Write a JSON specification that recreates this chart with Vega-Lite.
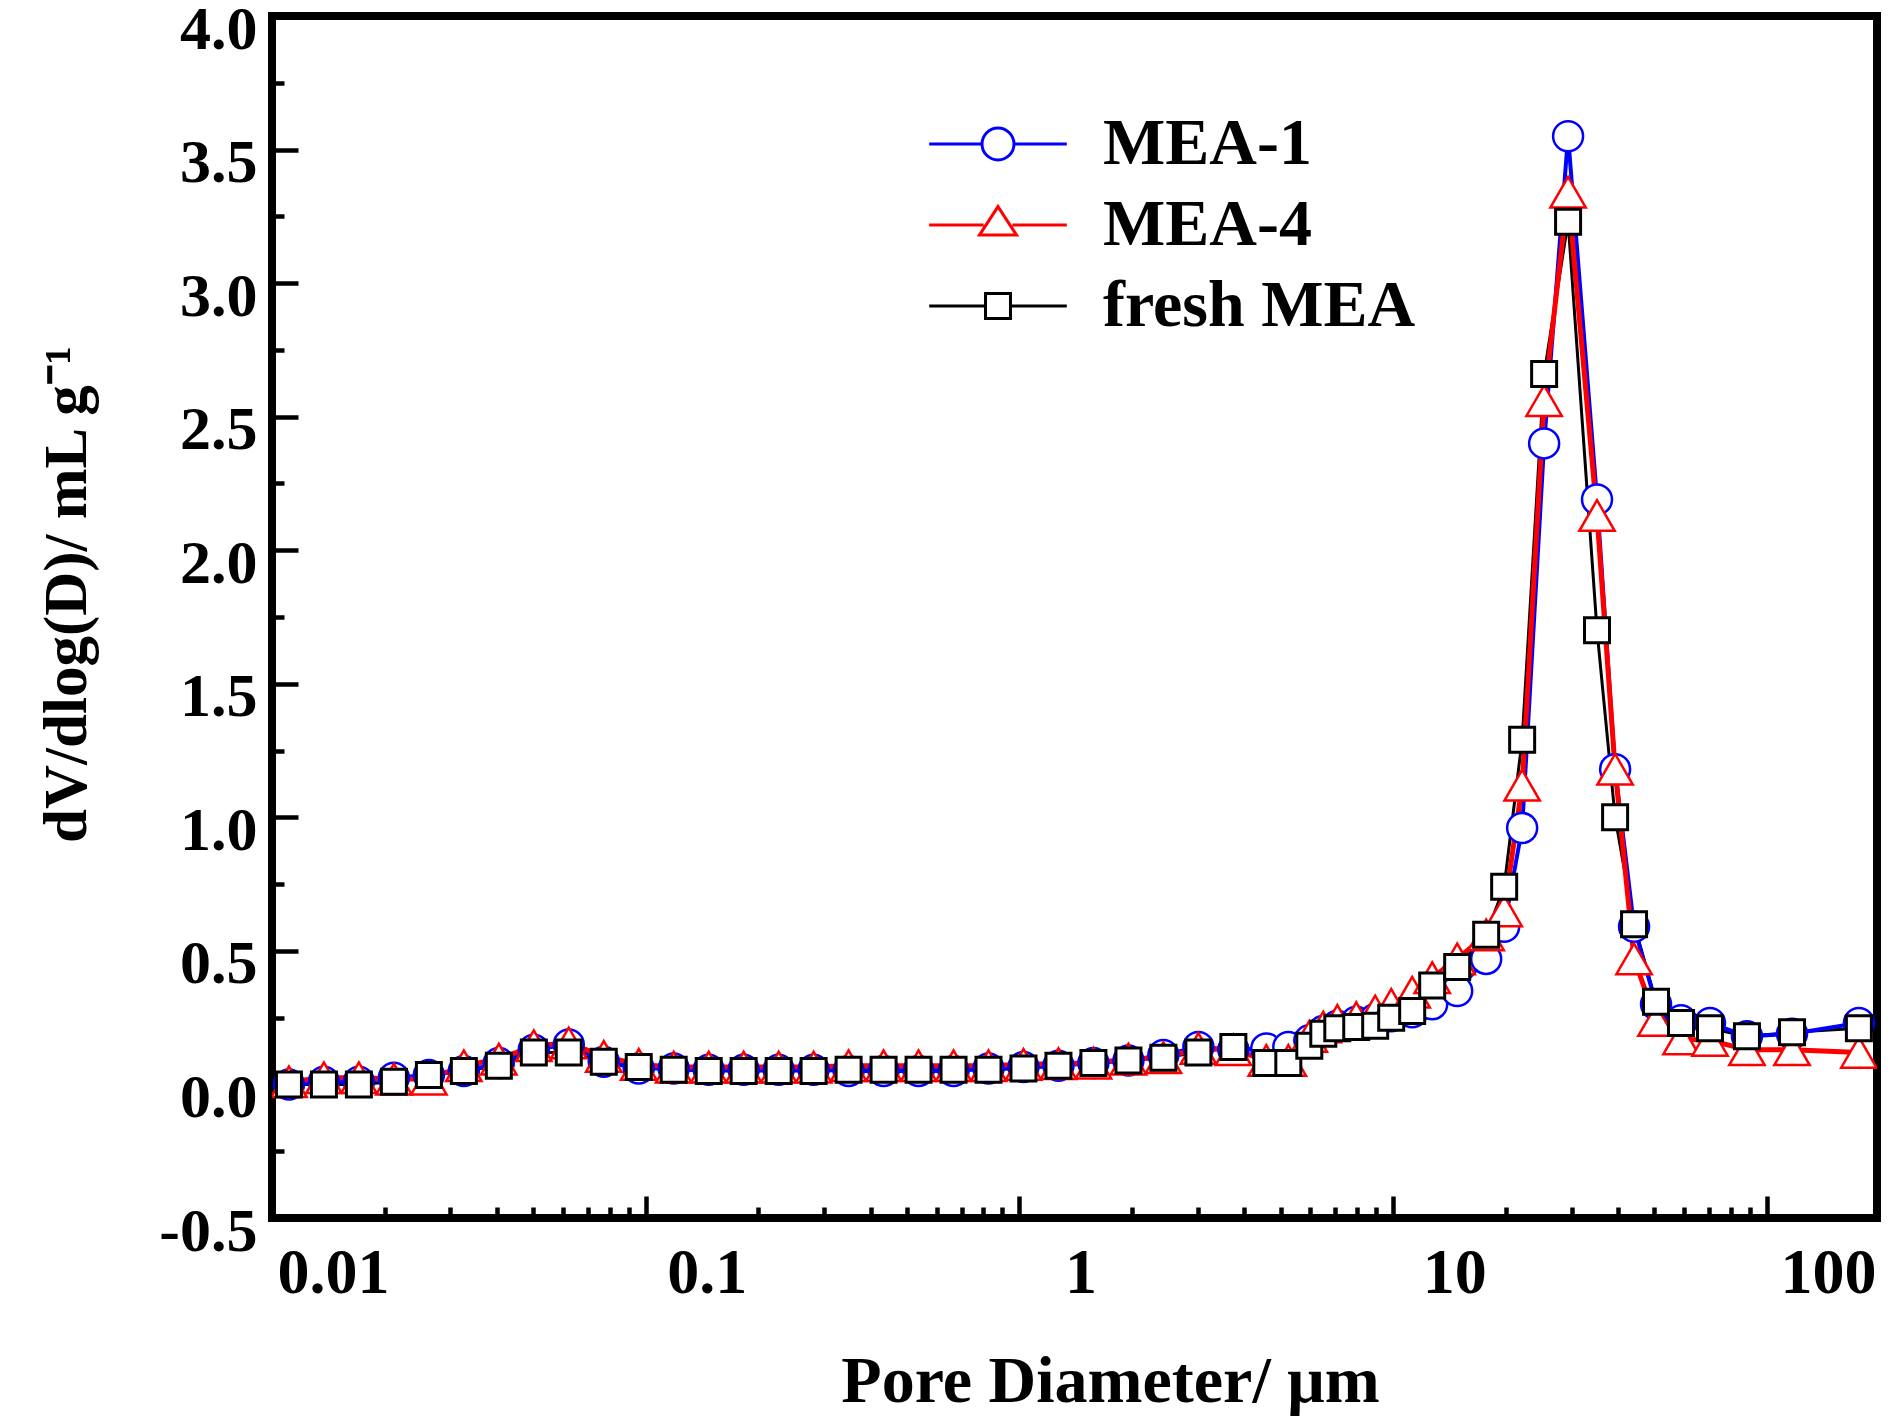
{
  "$schema": "https://vega.github.io/schema/vega-lite/v6.json",
  "autosize": "none",
  "padding": {"left": 272, "top": 16, "right": 25, "bottom": 201},
  "width": 1605,
  "height": 1202,
  "background": "white",
  "config": {
    "view": {"stroke": "black", "strokeWidth": 8},
    "font": "Liberation Serif"
  },
  "data": {
    "values": [
      {"s":"MEA-1","d":0.0111,"v":0.0},{"s":"MEA-1","d":0.01377,"v":0.01},{"s":"MEA-1","d":0.01708,"v":0.01},{"s":"MEA-1","d":0.02119,"v":0.025},{"s":"MEA-1","d":0.02629,"v":0.035},{"s":"MEA-1","d":0.03261,"v":0.05},{"s":"MEA-1","d":0.04045,"v":0.08},{"s":"MEA-1","d":0.05018,"v":0.13},{"s":"MEA-1","d":0.06224,"v":0.15},{"s":"MEA-1","d":0.07721,"v":0.085},{"s":"MEA-1","d":0.09578,"v":0.06},{"s":"MEA-1","d":0.1188,"v":0.06},{"s":"MEA-1","d":0.1474,"v":0.055},{"s":"MEA-1","d":0.1828,"v":0.055},{"s":"MEA-1","d":0.2268,"v":0.055},{"s":"MEA-1","d":0.2813,"v":0.055},{"s":"MEA-1","d":0.349,"v":0.05},{"s":"MEA-1","d":0.4329,"v":0.05},{"s":"MEA-1","d":0.537,"v":0.05},{"s":"MEA-1","d":0.6662,"v":0.05},{"s":"MEA-1","d":0.8263,"v":0.06},{"s":"MEA-1","d":1.025,"v":0.065},{"s":"MEA-1","d":1.2715,"v":0.07},{"s":"MEA-1","d":1.577,"v":0.08},{"s":"MEA-1","d":1.957,"v":0.09},{"s":"MEA-1","d":2.427,"v":0.11},{"s":"MEA-1","d":3.011,"v":0.14},{"s":"MEA-1","d":3.735,"v":0.13},{"s":"MEA-1","d":4.575,"v":0.135},{"s":"MEA-1","d":5.24,"v":0.14},{"s":"MEA-1","d":5.963,"v":0.165},{"s":"MEA-1","d":6.5,"v":0.2},{"s":"MEA-1","d":7.086,"v":0.22},{"s":"MEA-1","d":7.963,"v":0.235},{"s":"MEA-1","d":8.949,"v":0.245},{"s":"MEA-1","d":9.878,"v":0.255},{"s":"MEA-1","d":11.24,"v":0.27},{"s":"MEA-1","d":12.715,"v":0.3},{"s":"MEA-1","d":14.83,"v":0.35},{"s":"MEA-1","d":17.73,"v":0.47},{"s":"MEA-1","d":19.81,"v":0.59},{"s":"MEA-1","d":22.13,"v":0.96},{"s":"MEA-1","d":25.34,"v":2.4},{"s":"MEA-1","d":29.37,"v":3.55},{"s":"MEA-1","d":35.1,"v":2.19},{"s":"MEA-1","d":39.24,"v":1.18},{"s":"MEA-1","d":44.1,"v":0.59},{"s":"MEA-1","d":50.49,"v":0.3},{"s":"MEA-1","d":58.89,"v":0.24},{"s":"MEA-1","d":70.41,"v":0.23},{"s":"MEA-1","d":88.41,"v":0.18},{"s":"MEA-1","d":116.7,"v":0.19},{"s":"MEA-1","d":176.2,"v":0.23},
      {"s":"MEA-4","d":0.0111,"v":0.01},{"s":"MEA-4","d":0.01377,"v":0.025},{"s":"MEA-4","d":0.01708,"v":0.025},{"s":"MEA-4","d":0.02119,"v":0.02},{"s":"MEA-4","d":0.02629,"v":0.02},{"s":"MEA-4","d":0.03261,"v":0.07},{"s":"MEA-4","d":0.04045,"v":0.095},{"s":"MEA-4","d":0.05018,"v":0.145},{"s":"MEA-4","d":0.06224,"v":0.155},{"s":"MEA-4","d":0.07721,"v":0.105},{"s":"MEA-4","d":0.09578,"v":0.075},{"s":"MEA-4","d":0.1188,"v":0.065},{"s":"MEA-4","d":0.1474,"v":0.065},{"s":"MEA-4","d":0.1828,"v":0.065},{"s":"MEA-4","d":0.2268,"v":0.065},{"s":"MEA-4","d":0.2813,"v":0.065},{"s":"MEA-4","d":0.349,"v":0.07},{"s":"MEA-4","d":0.4329,"v":0.07},{"s":"MEA-4","d":0.537,"v":0.07},{"s":"MEA-4","d":0.6662,"v":0.07},{"s":"MEA-4","d":0.8263,"v":0.07},{"s":"MEA-4","d":1.025,"v":0.075},{"s":"MEA-4","d":1.2715,"v":0.078},{"s":"MEA-4","d":1.577,"v":0.08},{"s":"MEA-4","d":1.957,"v":0.095},{"s":"MEA-4","d":2.427,"v":0.1},{"s":"MEA-4","d":3.011,"v":0.135},{"s":"MEA-4","d":3.735,"v":0.13},{"s":"MEA-4","d":4.575,"v":0.09},{"s":"MEA-4","d":5.24,"v":0.09},{"s":"MEA-4","d":5.963,"v":0.18},{"s":"MEA-4","d":6.5,"v":0.215},{"s":"MEA-4","d":7.086,"v":0.24},{"s":"MEA-4","d":7.963,"v":0.25},{"s":"MEA-4","d":8.949,"v":0.275},{"s":"MEA-4","d":9.878,"v":0.3},{"s":"MEA-4","d":11.24,"v":0.345},{"s":"MEA-4","d":12.715,"v":0.4},{"s":"MEA-4","d":14.83,"v":0.47},{"s":"MEA-4","d":17.73,"v":0.56},{"s":"MEA-4","d":19.81,"v":0.65},{"s":"MEA-4","d":22.13,"v":1.12},{"s":"MEA-4","d":25.34,"v":2.56},{"s":"MEA-4","d":29.37,"v":3.34},{"s":"MEA-4","d":35.1,"v":2.13},{"s":"MEA-4","d":39.24,"v":1.18},{"s":"MEA-4","d":44.1,"v":0.47},{"s":"MEA-4","d":50.49,"v":0.24},{"s":"MEA-4","d":58.89,"v":0.17},{"s":"MEA-4","d":70.41,"v":0.165},{"s":"MEA-4","d":88.41,"v":0.13},{"s":"MEA-4","d":116.7,"v":0.13},{"s":"MEA-4","d":176.2,"v":0.12},
      {"s":"fresh MEA","d":0.0111,"v":0.0},{"s":"fresh MEA","d":0.01377,"v":0.0},{"s":"fresh MEA","d":0.01708,"v":0.0},{"s":"fresh MEA","d":0.02119,"v":0.01},{"s":"fresh MEA","d":0.02629,"v":0.035},{"s":"fresh MEA","d":0.03261,"v":0.05},{"s":"fresh MEA","d":0.04045,"v":0.07},{"s":"fresh MEA","d":0.05018,"v":0.12},{"s":"fresh MEA","d":0.06224,"v":0.12},{"s":"fresh MEA","d":0.07721,"v":0.085},{"s":"fresh MEA","d":0.09578,"v":0.065},{"s":"fresh MEA","d":0.1188,"v":0.055},{"s":"fresh MEA","d":0.1474,"v":0.05},{"s":"fresh MEA","d":0.1828,"v":0.05},{"s":"fresh MEA","d":0.2268,"v":0.05},{"s":"fresh MEA","d":0.2813,"v":0.05},{"s":"fresh MEA","d":0.349,"v":0.055},{"s":"fresh MEA","d":0.4329,"v":0.055},{"s":"fresh MEA","d":0.537,"v":0.055},{"s":"fresh MEA","d":0.6662,"v":0.055},{"s":"fresh MEA","d":0.8263,"v":0.055},{"s":"fresh MEA","d":1.025,"v":0.06},{"s":"fresh MEA","d":1.2715,"v":0.07},{"s":"fresh MEA","d":1.577,"v":0.08},{"s":"fresh MEA","d":1.957,"v":0.09},{"s":"fresh MEA","d":2.427,"v":0.1},{"s":"fresh MEA","d":3.011,"v":0.12},{"s":"fresh MEA","d":3.735,"v":0.14},{"s":"fresh MEA","d":4.575,"v":0.08},{"s":"fresh MEA","d":5.24,"v":0.08},{"s":"fresh MEA","d":5.963,"v":0.145},{"s":"fresh MEA","d":6.5,"v":0.19},{"s":"fresh MEA","d":7.086,"v":0.21},{"s":"fresh MEA","d":7.963,"v":0.215},{"s":"fresh MEA","d":8.949,"v":0.22},{"s":"fresh MEA","d":9.878,"v":0.25},{"s":"fresh MEA","d":11.24,"v":0.275},{"s":"fresh MEA","d":12.715,"v":0.37},{"s":"fresh MEA","d":14.83,"v":0.44},{"s":"fresh MEA","d":17.73,"v":0.56},{"s":"fresh MEA","d":19.81,"v":0.74},{"s":"fresh MEA","d":22.13,"v":1.29},{"s":"fresh MEA","d":25.34,"v":2.66},{"s":"fresh MEA","d":29.37,"v":3.23},{"s":"fresh MEA","d":35.1,"v":1.7},{"s":"fresh MEA","d":39.24,"v":1.0},{"s":"fresh MEA","d":44.1,"v":0.6},{"s":"fresh MEA","d":50.49,"v":0.31},{"s":"fresh MEA","d":58.89,"v":0.23},{"s":"fresh MEA","d":70.41,"v":0.21},{"s":"fresh MEA","d":88.41,"v":0.18},{"s":"fresh MEA","d":116.7,"v":0.195},{"s":"fresh MEA","d":176.2,"v":0.21}
    ]
  },
  "encoding": {
    "x": {
      "field": "d", "type": "quantitative",
      "scale": {"type": "log", "domain": [0.01, 197], "nice": false},
      "axis": {
        "title": "Pore Diameter/ μm",
        "values": [0.01,0.02,0.03,0.04,0.05,0.06,0.07,0.08,0.09,0.1,0.2,0.3,0.4,0.5,0.6,0.7,0.8,0.9,1,2,3,4,5,6,7,8,9,10,20,30,40,50,60,70,80,90,100],
        "format": "~g",
        "labelExpr": "indexof([0.01,0.1,1,10,100], datum.value) >= 0 ? datum.label : ''",
        "labelFlush": false,
        "labelOverlap": false,
        "domain": false,
        "grid": false,
        "tickColor": "black",
        "tickWidth": 4.5,
        "tickSize": {"condition": {"test": "indexof([0.01,0.1,1,10,100], datum.value) >= 0", "value": -22}, "value": -11},
        "labelOffset": 61,
        "labelPadding": 45,
        "labelFont": "Liberation Serif", "labelFontWeight": "bold", "labelFontSize": 64, "labelColor": "black",
        "titleFont": "Liberation Serif", "titleFontWeight": "bold", "titleFontSize": 66, "titleColor": "black",
        "titleX": 838, "titleY": 183, "titleBaseline": "alphabetic", "titleAlign": "center"
      }
    },
    "y": {
      "field": "v", "type": "quantitative",
      "scale": {"domain": [-0.5, 4.0], "nice": false, "zero": false},
      "axis": {
        "title": "dV/dlog(D)/ mL g⁻¹",
        "values": [-0.5,-0.25,0,0.25,0.5,0.75,1,1.25,1.5,1.75,2,2.25,2.5,2.75,3,3.25,3.5,3.75,4],
        "labelExpr": "abs(datum.value*2 - round(datum.value*2)) < 0.000001 ? (datum.value < 0 ? '-' : '') + format(abs(datum.value), '.1f') : ''",
        "labelOverlap": false,
        "labelFlush": false,
        "domain": false,
        "grid": false,
        "tickColor": "black",
        "tickWidth": 4.5,
        "tickSize": {"condition": {"test": "abs(datum.value*2 - round(datum.value*2)) < 0.000001", "value": -26}, "value": -12},
        "labelOffset": 13,
        "labelPadding": 41,
        "labelBaseline": "middle",
        "labelFont": "Liberation Serif", "labelFontWeight": "bold", "labelFontSize": 62, "labelColor": "black",
        "titleFont": "Liberation Serif", "titleFontWeight": "bold", "titleFontSize": 61, "titleColor": "black",
        "titleX": -187, "titleY": 578, "titleAngle": -90, "titleBaseline": "alphabetic", "titleAlign": "center"
      }
    }
  },
  "layer": [
    {
      "transform": [{"filter": "datum.s === 'fresh MEA'"}],
      "mark": {"type": "line", "color": "#000000", "strokeWidth": 3, "clip": true}
    },
    {
      "transform": [{"filter": "datum.s === 'MEA-1'"}],
      "mark": {"type": "line", "color": "#0000ff", "strokeWidth": 4, "clip": true}
    },
    {
      "transform": [{"filter": "datum.s === 'MEA-4'"}],
      "mark": {"type": "line", "color": "#ff0000", "strokeWidth": 5, "clip": true}
    },
    {
      "transform": [{"filter": "datum.s === 'MEA-1'"}],
      "mark": {"type": "point", "shape": "circle", "size": 900, "filled": false, "fill": "white", "strokeWidth": 2.5, "opacity": 1, "clip": true},
      "encoding": {
        "color": {
          "field": "s", "type": "nominal",
          "scale": {"domain": ["MEA-1", "MEA-4", "fresh MEA"], "range": ["#0000ff", "#ff0000", "#000000"]},
          "legend": {
            "orient": "none", "legendX": 693, "legendY": 95, "title": null,
            "labelFont": "Liberation Serif", "labelFontWeight": "bold", "labelFontSize": 66, "labelColor": "black",
            "labelLimit": 0,
            "labelOffset": 72, "rowPadding": 15, "symbolSize": 1024,
            "symbolType": {"expr": "datum.value === 'MEA-1' ? 'M-4.3,0H-1M1,0H4.3M1,0A1,1,0,1,1,-1,0A1,1,0,1,1,1,0Z' : datum.value === 'MEA-4' ? 'M-4.3,0H-0.9M0.9,0H4.3M0,-1.15L1.16,0.63L-1.16,0.63Z' : 'M-4.3,0H-0.78M0.78,0H4.3M-0.78,-0.78H0.78V0.78H-0.78Z'"},
            "symbolStrokeWidth": 3,
            "symbolFillColor": "white",
            "symbolOpacity": 1
          }
        }
      }
    },
    {
      "transform": [{"filter": "datum.s === 'MEA-4'"}],
      "mark": {"type": "point", "shape": "triangle-up", "size": 1250, "filled": false, "fill": "white", "strokeWidth": 2.5, "opacity": 1, "clip": true},
      "encoding": {"color": {"field": "s", "type": "nominal"}}
    },
    {
      "transform": [{"filter": "datum.s === 'fresh MEA'"}],
      "mark": {"type": "point", "shape": "square", "size": 625, "filled": false, "fill": "white", "strokeWidth": 3, "opacity": 1, "clip": true},
      "encoding": {"color": {"field": "s", "type": "nominal"}}
    }
  ]
}
